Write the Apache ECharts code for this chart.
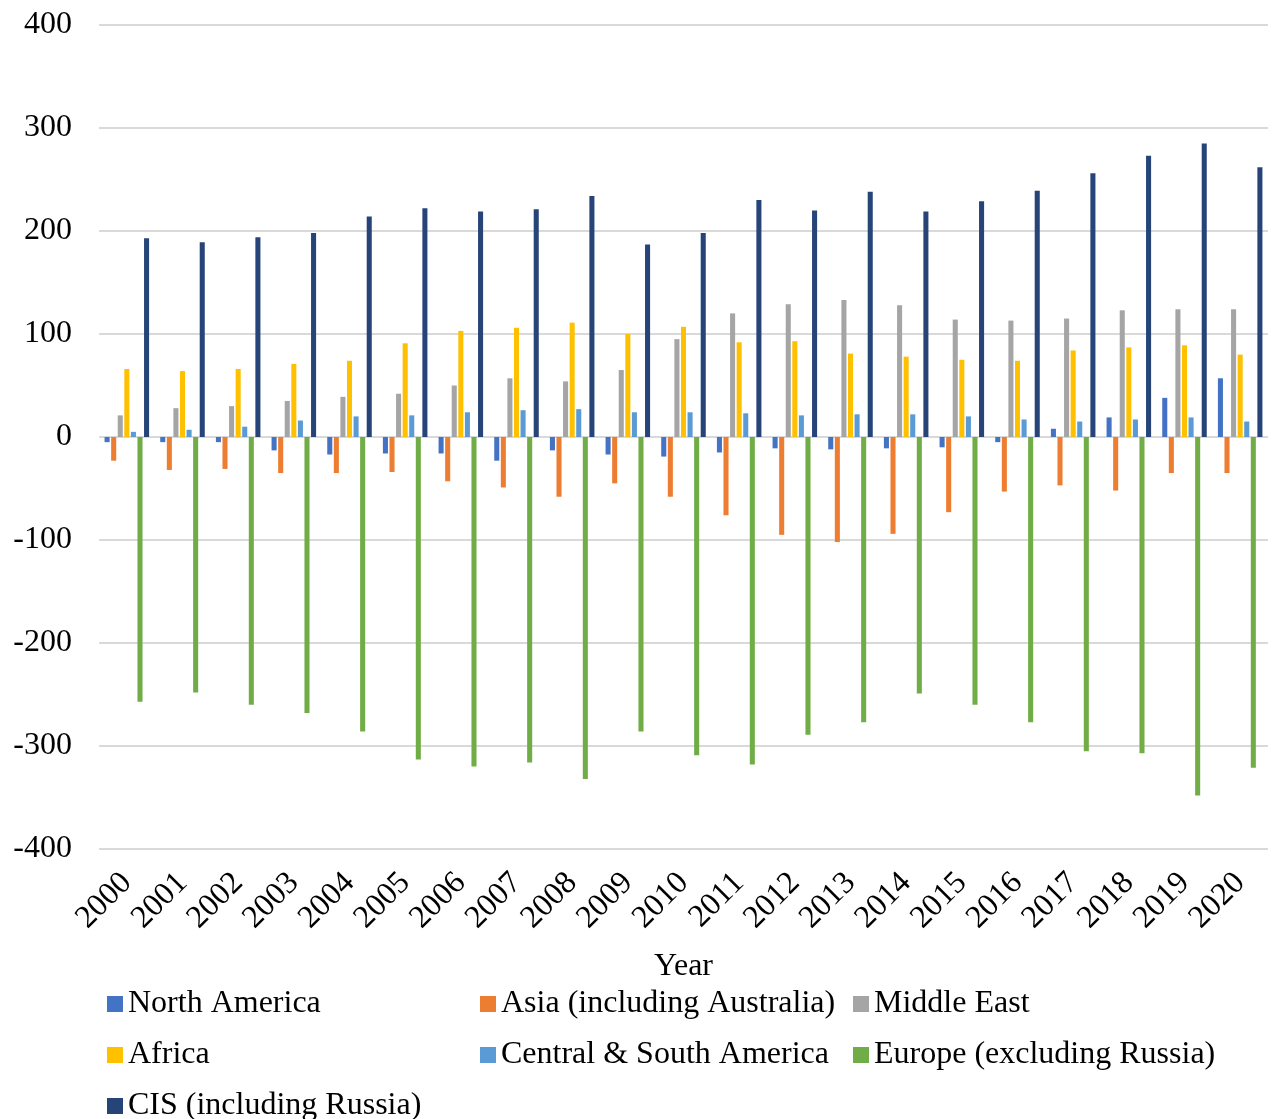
<!DOCTYPE html>
<html>
<head>
<meta charset="utf-8">
<script src="https://cdn.jsdelivr.net/npm/echarts@6/dist/echarts.min.js"></script>
<style>
  html, body { margin: 0; padding: 0; background: #ffffff; }
  #chart { width: 1277px; height: 1119px; }
</style>
</head>
<body>
<div id="chart"></div>
<script>
// Net gas trade balance by region, BCM
const years = ['2000','2001','2002','2003','2004','2005','2006','2007','2008','2009','2010',
               '2011','2012','2013','2014','2015','2016','2017','2018','2019','2020'];

const northAmerica = [-5, -5, -5, -13, -17, -16, -16, -23, -13, -17, -19, -15, -11, -12, -11, -10, -5, 8, 19, 38, 57];
const asia         = [-23, -32, -31, -35, -35, -34, -43, -49, -58, -45, -58, -76, -95, -102, -94, -73, -53, -47, -52, -35, -35];
const middleEast   = [21, 28, 30, 35, 39, 42, 50, 57, 54, 65, 95, 120, 129, 133, 128, 114, 113, 115, 123, 124, 124];
const africa       = [66, 64, 66, 71, 74, 91, 103, 106, 111, 100, 107, 92, 93, 81, 78, 75, 74, 84, 87, 89, 80];
const centralSouthAmerica = [5, 7, 10, 16, 20, 21, 24, 26, 27, 24, 24, 23, 21, 22, 22, 20, 17, 15, 17, 19, 15];
const europe       = [-257, -248, -260, -268, -286, -313, -320, -316, -332, -286, -309, -318, -289, -277, -249, -260, -277, -305, -307, -348, -321];
const cis          = [193, 189, 194, 198, 214, 222, 219, 221, 234, 187, 198, 230, 220, 238, 219, 229, 239, 256, 273, 285, 262];

const seriesDefs = [
  { name: 'North America',              data: northAmerica,        color: '#4472C4' },
  { name: 'Asia (including Australia)', data: asia,                color: '#ED7D31' },
  { name: 'Middle East',                data: middleEast,          color: '#A5A5A5' },
  { name: 'Africa',                     data: africa,              color: '#FFC000' },
  { name: 'Central & South America',    data: centralSouthAmerica, color: '#5B9BD5' },
  { name: 'Europe (excluding Russia)',  data: europe,              color: '#70AD47' },
  { name: 'CIS (including Russia)',     data: cis,                 color: '#264478' }
];

const font = '"Liberation Serif", "Times New Roman", serif';
const textColor = '#000000';
const fontSize = 32;

// Legend entries laid out in three columns, three rows
const legendCols = [107, 480, 853];
const legendRows = [988, 1039, 1090];
const legendSlots = [[0, 0], [1, 0], [2, 0], [0, 1], [1, 1], [2, 1], [0, 2]];

const legends = seriesDefs.map((s, i) => ({
  left: legendCols[legendSlots[i][0]],
  top: legendRows[legendSlots[i][1]],
  padding: 0,
  itemWidth: 16,
  itemHeight: 16,
  itemTextGap: 11,
  icon: 'rect',
  data: [s.name],
  textStyle: { fontFamily: font, fontSize: fontSize, color: textColor }
}));

const chart = echarts.init(document.getElementById('chart'), null, { renderer: 'canvas' });

chart.setOption({
  backgroundColor: '#ffffff',
  animation: false,
  grid: { left: 99, right: 9, top: 25, bottom: 270, containLabel: false, outerBoundsMode: 'none' },
  legend: legends,
  xAxis: {
    type: 'category',
    data: years,
    name: 'Year',
    nameLocation: 'middle',
    nameGap: 102,
    nameTextStyle: { fontFamily: font, fontSize: fontSize, color: textColor },
    axisLine: { show: false, onZero: false },
    axisTick: { show: false },
    axisLabel: {
      rotate: 45,
      margin: 29,
      interval: 0,
      fontFamily: font,
      fontSize: fontSize,
      color: textColor
    }
  },
  yAxis: {
    type: 'value',
    min: -400,
    max: 400,
    interval: 100,
    name: 'BCM',
    nameLocation: 'middle',
    nameRotate: 90,
    nameGap: 62,
    nameTextStyle: { fontFamily: font, fontSize: fontSize, color: textColor },
    axisLine: { show: false },
    axisTick: { show: false },
    axisLabel: { margin: 27, fontFamily: font, fontSize: fontSize, color: textColor },
    splitLine: { lineStyle: { color: '#d9d9d9', width: 2 } }
  },
  series: seriesDefs.map(s => ({
    name: s.name,
    type: 'bar',
    data: s.data,
    barGap: '30%',
    barCategoryGap: '20%',
    itemStyle: { color: s.color },
    emphasis: { disabled: true }
  }))
});
</script>
</body>
</html>
